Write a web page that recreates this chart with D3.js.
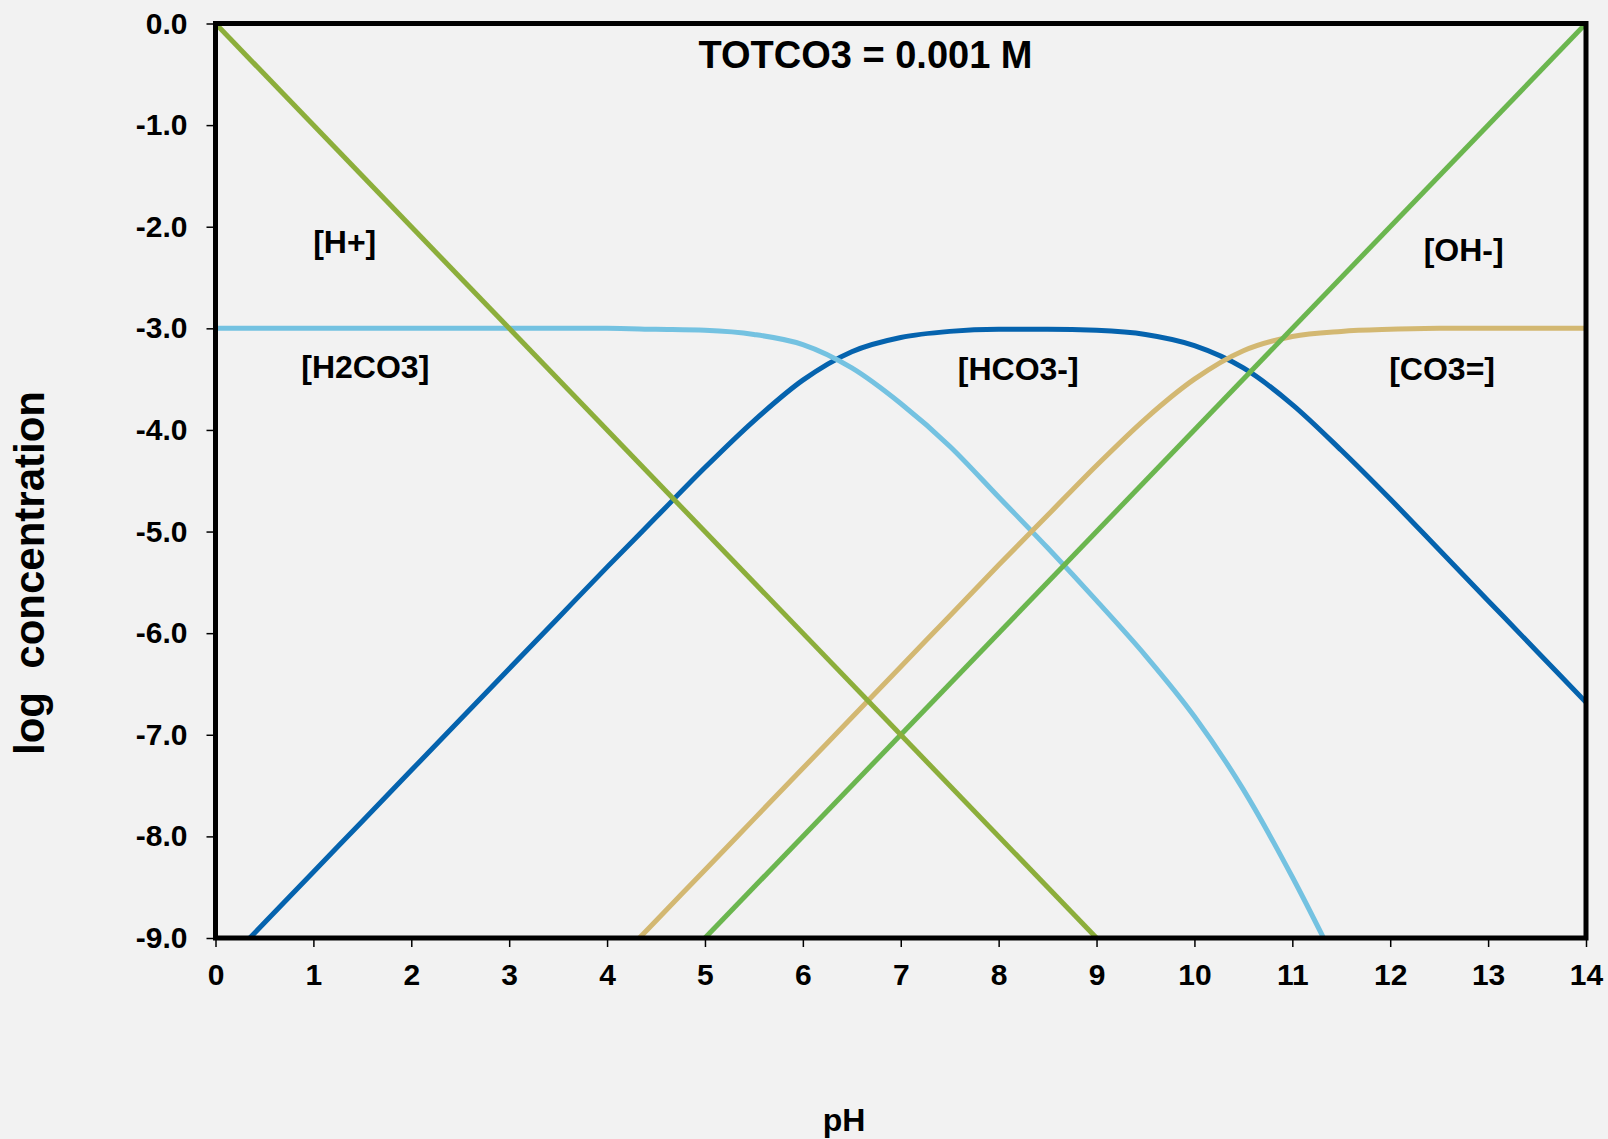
<!DOCTYPE html>
<html>
	<head>
		<title>Carbonate system - log concentration vs pH</title>
		<script src="https://d3js.org/d3.v7.min.js"></script>
		<style>
			body { margin: 0; background: #f2f2f2; }
			svg { display: block; font-family: "Liberation Sans", Arial, sans-serif; font-weight: bold; }
		</style>
	</head>
	<body>
		<svg width="1608" height="1139"></svg>

		<script type="text/javascript">
			// pH grid for the carbonate species
			var pH = [0, 0.5, 1, 1.5, 2, 2.5, 3, 3.5, 4, 4.5, 5, 5.5, 6, 6.5, 7,
				7.5, 8, 8.5, 9, 9.5, 10, 10.5, 11, 11.5, 12, 12.5, 13, 13.5, 14];

			var logH2CO3 = [-3.00, -3.00, -3.00, -3.00, -3.00, -3.00, -3.00, -3.00, -3.00, -3.01, -3.02, -3.06, -3.16, -3.39, -3.74,
				-4.16, -4.66, -5.16, -5.68, -6.22, -6.82, -7.54, -8.40, -9.35, null, null, null, null, null];

			var logHCO3 = [-9.35, -8.85, -8.35, -7.85, -7.35, -6.85, -6.35, -5.85, -5.35, -4.86, -4.37, -3.91, -3.51, -3.23, -3.09,
				-3.03, -3.01, -3.01, -3.02, -3.06, -3.17, -3.39, -3.75, -4.20, -4.68, -5.18, -5.68, -6.18, -6.68];

			var logCO3 = [null, null, null, null, null, null, null, null, -9.33, -8.83, -8.33, -7.83, -7.33, -6.83, -6.33,
				-5.83, -5.33, -4.84, -4.35, -3.89, -3.50, -3.22, -3.08, -3.03, -3.01, -3.00, -3.00, -3.00, -3.00];

			// straight lines for water species
			var phH = [0, 9];
			var logHplus = [0, -9];
			var phOH = [5, 14];
			var logOH = [-9, 0];

			var xTicks = [0, 1, 2, 3, 4, 5, 6, 7, 8, 9, 10, 11, 12, 13, 14];
			var yTicks = [0, -1, -2, -3, -4, -5, -6, -7, -8, -9];
			var yTickLabels = ['0.0', '-1.0', '-2.0', '-3.0', '-4.0', '-5.0', '-6.0', '-7.0', '-8.0', '-9.0'];

			// species labels placed in data space
			var labelText = ['[H+]', '[H2CO3]', '[HCO3-]', '[OH-]', '[CO3=]'];
			var labelPh = [1.32, 1.53, 8.20, 12.75, 12.53];
			var labelLog = [-2.26, -3.49, -3.51, -2.34, -3.51];

			var margin = {top: 23.5, right: 22, bottom: 201, left: 215.5};
			var W = 1608, H = 1139;
			var width = W - margin.left - margin.right;
			var height = H - margin.top - margin.bottom;

			var xScale = d3.scaleLinear().domain([0, 14]).range([0, width]);
			var yScale = d3.scaleLinear().domain([-9, 0]).range([height, 0]);

			var svg = d3.select('svg');
			svg.append('rect').attr('width', W).attr('height', H).attr('fill', '#f2f2f2');

			var g = svg.append('g').attr('transform', 'translate(' + margin.left + ',' + margin.top + ')');

			g.append('clipPath').attr('id', 'plot-clip')
				.append('rect').attr('width', width).attr('height', height);

			// axes
			var xAxis = d3.axisBottom(xScale).tickValues(xTicks).tickSize(9).tickSizeOuter(0).tickPadding(17);
			var yAxis = d3.axisLeft(yScale).tickValues(yTicks).tickSize(9).tickSizeOuter(0).tickPadding(19)
				.tickFormat(function (d, i) { return yTickLabels[i]; });

			var gx = g.append('g').attr('transform', 'translate(0,' + height + ')').call(xAxis);
			var gy = g.append('g').call(yAxis);
			[gx, gy].forEach(function (ax) {
				ax.select('.domain').remove();
				ax.selectAll('line').attr('stroke', '#000').attr('stroke-width', 1.5);
				ax.selectAll('text').attr('font-size', 30).attr('fill', '#000')
					.attr('font-family', '"Liberation Sans", Arial, sans-serif').attr('font-weight', 'bold');
			});

			// series
			function series(xs, ys) {
				var pts = [];
				for (var i = 0; i < xs.length; i++) {
					if (ys[i] !== null) pts.push([xs[i], ys[i]]);
				}
				return pts;
			}

			var smooth = d3.line()
				.x(function (d) { return xScale(d[0]); })
				.y(function (d) { return yScale(d[1]); })
				.curve(d3.curveMonotoneX);

			var lines = [
				{pts: series(pH, logHCO3), color: '#0563ae'},
				{pts: series(pH, logH2CO3), color: '#74c2e1'},
				{pts: series(pH, logCO3), color: '#d3b872'},
				{pts: series(phOH, logOH), color: '#6bb64f'},
				{pts: series(phH, logHplus), color: '#8cae3b'}
			];

			var plot = g.append('g').attr('clip-path', 'url(#plot-clip)');
			plot.selectAll('path.series')
				.data(lines).enter()
				.append('path')
				.attr('class', 'series')
				.attr('d', function (d) { return smooth(d.pts); })
				.attr('fill', 'none')
				.attr('stroke', function (d) { return d.color; })
				.attr('stroke-width', 5)
				.attr('stroke-linejoin', 'round');

			// plot frame
			g.append('rect')
				.attr('width', width).attr('height', height)
				.attr('fill', 'none').attr('stroke', '#000').attr('stroke-width', 5);

			// species labels
			g.selectAll('text.species')
				.data(labelText).enter()
				.append('text')
				.attr('class', 'species')
				.attr('x', function (d, i) { return xScale(labelPh[i]); })
				.attr('y', function (d, i) { return yScale(labelLog[i]); })
				.attr('text-anchor', 'middle')
				.attr('font-size', 32)
				.text(function (d) { return d; });

			// title
			g.append('text')
				.attr('x', xScale(6.64)).attr('y', yScale(-0.44))
				.attr('text-anchor', 'middle')
				.attr('font-size', 38)
				.text('TOTCO3 = 0.001 M');

			// axis titles
			svg.append('text')
				.attr('x', 844).attr('y', 1131)
				.attr('text-anchor', 'middle')
				.attr('font-size', 32)
				.text('pH');

			svg.append('text')
				.attr('transform', 'translate(44,' + 573 + ') rotate(-90)')
				.attr('text-anchor', 'middle')
				.attr('font-size', 42)
				.attr('xml:space', 'preserve')
				.style('white-space', 'pre')
				.text('log  concentration');
		</script>
	</body>
</html>
